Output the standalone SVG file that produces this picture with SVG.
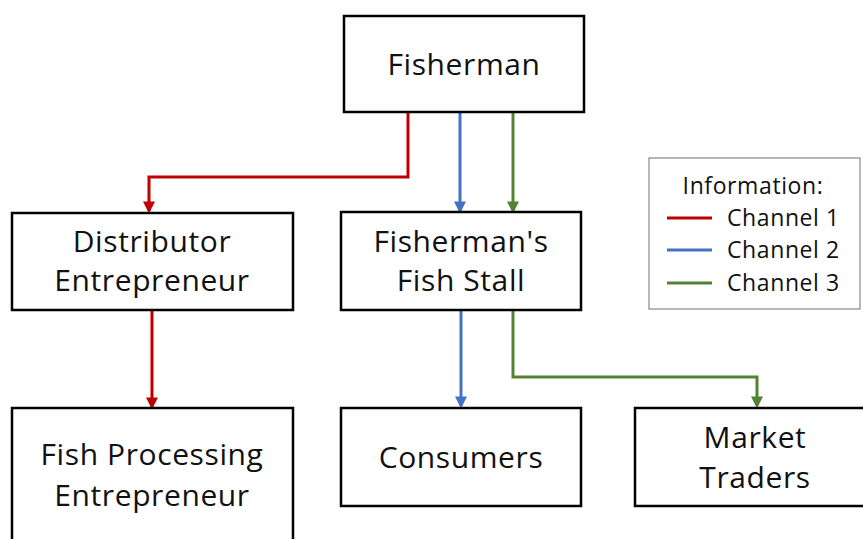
<svg xmlns="http://www.w3.org/2000/svg" width="863" height="539" viewBox="0 0 863 539">
<style>
.box{fill:#fff;stroke:#000;stroke-width:2.5}
.t{font-family:"Open Sans","Noto Sans",sans-serif;font-size:30px;letter-spacing:0.6px;fill:#111;text-anchor:middle}
.lt{font-family:"Open Sans","Noto Sans",sans-serif;font-size:23px;letter-spacing:0.6px;fill:#111}
.c{fill:none;stroke-width:3}
.r{stroke:#C00000}.b{stroke:#4472C4}.g{stroke:#548235}
</style>
<defs>
<marker id="ar" markerWidth="4" markerHeight="4" refX="3.2" refY="2" orient="auto" markerUnits="strokeWidth"><path d="M0,0L4,2L0,4Z" fill="#C00000"/></marker>
<marker id="ab" markerWidth="4" markerHeight="4" refX="3.2" refY="2" orient="auto" markerUnits="strokeWidth"><path d="M0,0L4,2L0,4Z" fill="#4472C4"/></marker>
<marker id="ag" markerWidth="4" markerHeight="4" refX="3.2" refY="2" orient="auto" markerUnits="strokeWidth"><path d="M0,0L4,2L0,4Z" fill="#548235"/></marker>
</defs>
<rect width="863" height="539" fill="#fff"/>
<g id="connectors">
<path class="c r" d="M408,112V177H149V211" marker-end="url(#ar)"/>
<path class="c b" d="M460,112V211" marker-end="url(#ab)"/>
<path class="c g" d="M513,112V211" marker-end="url(#ag)"/>
<path class="c r" d="M152,310V407" marker-end="url(#ar)"/>
<path class="c b" d="M461,310V406" marker-end="url(#ab)"/>
<path class="c g" d="M513,310V377H757V406" marker-end="url(#ag)"/>
</g>
<g id="fisherman"><rect class="box" x="344" y="16" width="240" height="96"/><text class="t" x="464" y="75">Fisherman</text></g>
<g id="distributor"><rect class="box" x="12" y="213" width="281" height="97"/><text class="t" x="152" y="252">Distributor</text><text class="t" x="152" y="291">Entrepreneur</text></g>
<g id="stall"><rect class="box" x="341" y="212" width="240" height="98"/><text class="t" x="461" y="252">Fisherman's</text><text class="t" x="461" y="291">Fish Stall</text></g>
<g id="processing"><rect class="box" x="12" y="408" width="281" height="140"/><text class="t" x="152" y="465">Fish Processing</text><text class="t" x="152" y="506">Entrepreneur</text></g>
<g id="consumers"><rect class="box" x="341" y="408" width="240" height="98"/><text class="t" x="461" y="468">Consumers</text></g>
<g id="traders"><rect class="box" x="635" y="408" width="230" height="98"/><text class="t" x="755" y="448">Market</text><text class="t" x="755" y="488">Traders</text></g>
<g id="legend">
<rect x="649" y="158" width="211" height="151" fill="#fff" stroke="#888" stroke-width="1.2"/>
<text class="lt" x="753" y="194" text-anchor="middle">Information:</text>
<line class="c r" x1="667" y1="218" x2="712" y2="218" stroke-width="4"/>
<line class="c b" x1="667" y1="250" x2="712" y2="250" stroke-width="4"/>
<line class="c g" x1="667" y1="283" x2="712" y2="283" stroke-width="4"/>
<text class="lt" x="727" y="226">Channel 1</text>
<text class="lt" x="727" y="258">Channel 2</text>
<text class="lt" x="727" y="291">Channel 3</text>
</g>
</svg>
